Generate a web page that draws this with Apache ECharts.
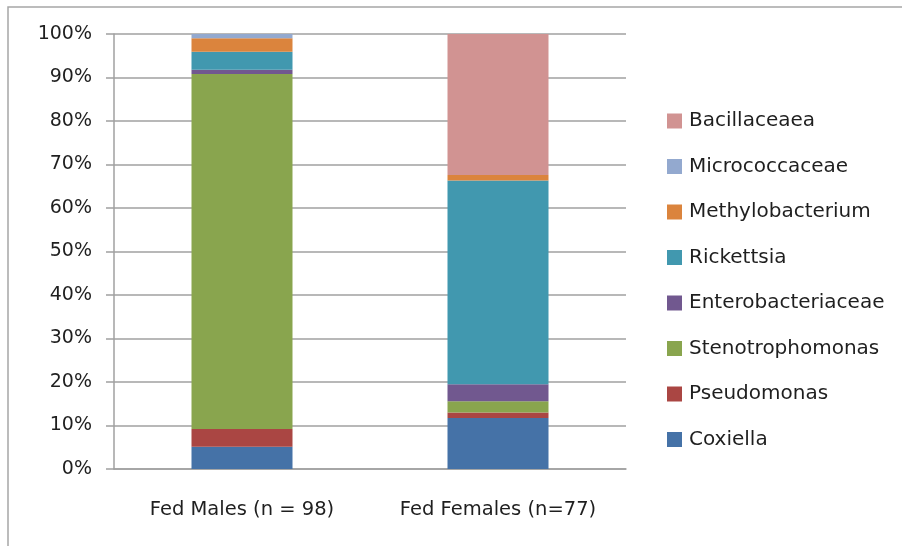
<!DOCTYPE html>
<html lang="en">
<head>
    <meta charset="UTF-8">
    <script src="https://cdn.jsdelivr.net/npm/echarts@6.0.0/dist/echarts.min.js" type="text/javascript"></script>
    <style>
        html,body{margin:0;padding:0;background:#fff}
        #chart{width:902px;height:546px}
    </style>
    <title>Stacked bars</title>
</head>
<body>
    <div id="chart"></div>
    <script type="text/javascript">
        // groups on the x axis
        var groups = ['Fed Males (n = 98)', 'Fed Females (n=77)'];
        // taxa, bottom of the stack first
        var taxa = ['Coxiella', 'Pseudomonas', 'Stenotrophomonas', 'Enterobacteriaceae',
                    'Rickettsia', 'Methylobacterium', 'Micrococcaceae', 'Bacillaceaea'];
        var colors = ['#4572A7', '#AA4643', '#89A54E', '#71588F',
                      '#4198AF', '#DB843D', '#93A9CF', '#D19392'];
        // percent of each group
        var coxiella = [5.1, 11.7];
        var pseudomonas = [4.1, 1.3];
        var stenotrophomonas = [81.6, 2.6];
        var enterobacteriaceae = [1.0, 3.9];
        var rickettsia = [4.1, 46.8];
        var methylobacterium = [3.1, 1.3];
        var micrococcaceae = [1.0, 0];
        var bacillaceaea = [0, 32.4];
        var yTicks = [0, 10, 20, 30, 40, 50, 60, 70, 80, 90, 100];

        var values = [coxiella, pseudomonas, stenotrophomonas, enterobacteriaceae,
                      rickettsia, methylobacterium, micrococcaceae, bacillaceaea];

        var font = 'DejaVu Sans';
        var txt = '#1f1f1f';
        var gray = '#a0a0a0';

        var series = [];
        for (var i = 0; i < taxa.length; i++) {
            series.push({
                name: taxa[i],
                type: 'bar',
                stack: 'all',
                barWidth: 101,
                itemStyle: {color: colors[i]},
                data: values[i]
            });
        }

        var ec = echarts.init(document.getElementById('chart'));
        ec.setOption({
            animation: false,
            textStyle: {fontFamily: font, color: txt},
            grid: {left: 114, top: 34, right: 276, bottom: 77, containLabel: false},
            legend: {
                orient: 'vertical',
                left: 667,
                top: 111,
                padding: 0,
                icon: 'rect',
                itemWidth: 15,
                itemHeight: 15,
                itemGap: 25.5,
                data: taxa.slice().reverse(),
                textStyle: {fontFamily: font, fontSize: 20, color: txt, lineHeight: 20, padding: [0, 0, 0, 2]}
            },
            xAxis: {
                type: 'category',
                data: groups,
                axisLine: {lineStyle: {color: gray, width: 1.5}},
                axisTick: {length: 6, lineStyle: {color: gray, width: 1.5}},
                axisLabel: {margin: 31, fontSize: 19.5, interval: 0, color: txt, fontFamily: font}
            },
            yAxis: {
                type: 'value',
                min: yTicks[0],
                max: yTicks[yTicks.length - 1],
                interval: 10,
                axisLine: {show: true, lineStyle: {color: gray, width: 1.5}},
                axisTick: {show: true, length: 8, lineStyle: {color: gray, width: 1.5}},
                splitLine: {lineStyle: {color: gray, width: 1.5}},
                axisLabel: {margin: 22, fontSize: 19, color: txt, fontFamily: font, formatter: '{value}%'}
            },
            graphic: [{
                type: 'polyline',
                shape: {points: [[8, 600], [8, 7], [1000, 7]]},
                style: {fill: 'none', stroke: '#a6a6a6', lineWidth: 1.5},
                silent: true
            }],
            series: series
        });
    </script>
</body>
</html>
